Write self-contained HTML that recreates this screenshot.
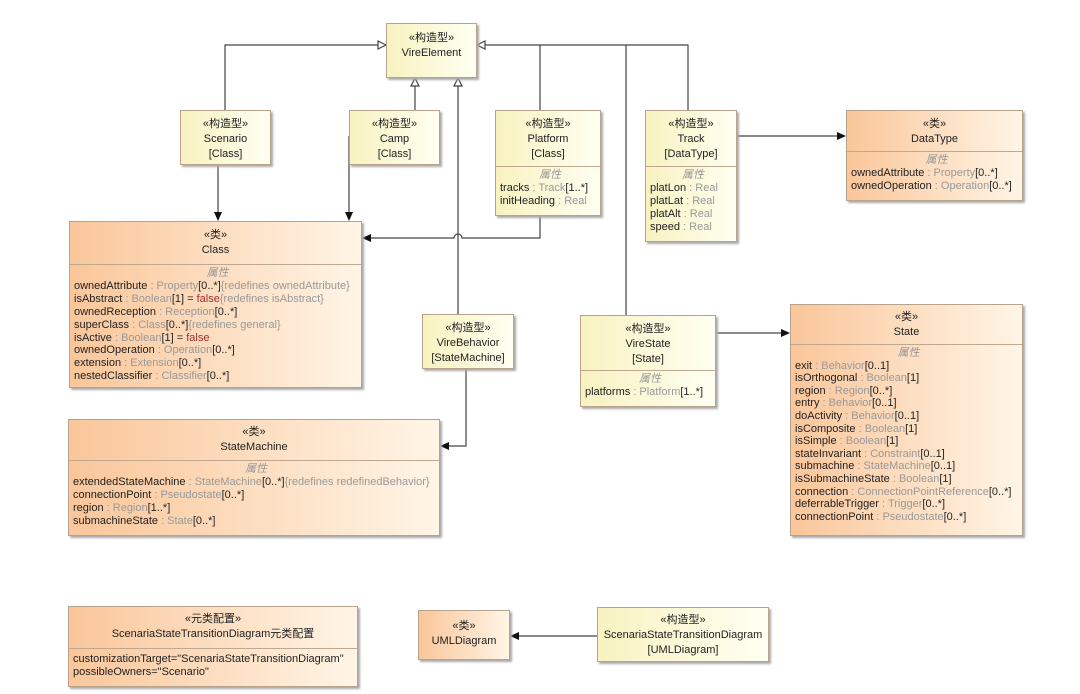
<!DOCTYPE html>
<html><head><meta charset="utf-8"><style>
body{margin:0;width:1080px;height:694px;background:#fff;position:relative;overflow:hidden;font-family:"Liberation Sans","Noto Sans CJK SC",sans-serif;font-size:11px;color:#222}
.b{position:absolute;box-sizing:border-box;border:1px solid #b8a48c;box-shadow:2px 2px 2px #aaa}
.y{background:linear-gradient(90deg,#f8f2c0,#fffff2)}
.o{background:linear-gradient(90deg,#fac69a,#fff5e6)}
.hd{text-align:center;line-height:15px;box-sizing:border-box;padding-top:6px}
.sep{border-top:1px solid #c0a890;padding:2px 0 0 4px;line-height:12.9px}
.pr{text-align:center;font-style:italic;color:#999}
.g{color:#999}.r{color:#a03030}
svg{position:absolute;left:0;top:0}
</style></head><body>
<svg width="1080" height="694">
<g stroke="#444" stroke-width="1.2" fill="none">
<polyline points="225,110 225,45 378,45"/>
<polyline points="415,110 415,86"/>
<polyline points="458,314 458,86"/>
<polyline points="540,110 540,45 485,45"/>
<polyline points="688,110 688,45 540,45"/>
<polyline points="626,315 626,45"/>
<polyline points="218,165 218,212"/>
<polyline points="349,136 349,212"/>
<path d="M540,216 L540,238 L462,238 A4,4 0 0 0 454,238 L371,238"/>
<polyline points="466,369 466,446 449,446"/>
<polyline points="737,136 837,136"/>
<polyline points="716,333 781,333"/>
<polyline points="597,636 519,636"/>
</g>
<g fill="#fff" stroke="#444" stroke-width="1.2">
<polygon points="386,45 378,41 378,49"/>
<polygon points="477,45 485,41 485,49"/>
<polygon points="415,78 411,86 419,86"/>
<polygon points="458,78 454,86 462,86"/>
</g>
<g fill="#111">
<polygon points="218,221 214,212 222,212"/>
<polygon points="349,221 345,212 353,212"/>
<polygon points="362,238 371,234 371,242"/>
<polygon points="440,446 449,442 449,450"/>
<polygon points="846,136 837,132 837,140"/>
<polygon points="790,333 781,329 781,337"/>
<polygon points="510,636 519,632 519,640"/>
</g>
</svg>

<div class="b y" style="left:386px;top:23px;width:91px;height:55px"><div class="hd" style="padding-top:7px">«构造型»<br>VireElement</div></div>
<div class="b y" style="left:180px;top:110px;width:91px;height:55px"><div class="hd">«构造型»<br>Scenario<br>[Class]</div></div>
<div class="b y" style="left:349px;top:110px;width:91px;height:55px"><div class="hd">«构造型»<br>Camp<br>[Class]</div></div>
<div class="b y" style="left:495px;top:110px;width:106px;height:106px"><div class="hd" style="height:55px">«构造型»<br>Platform<br>[Class]</div>
<div class="sep"><div class="pr">属性</div>tracks <span class="g">: Track</span>[1..*]<br>initHeading <span class="g">: Real</span></div></div>
<div class="b y" style="left:645px;top:110px;width:92px;height:132px"><div class="hd" style="height:55px">«构造型»<br>Track<br>[DataType]</div>
<div class="sep"><div class="pr">属性</div>platLon <span class="g">: Real</span><br>platLat <span class="g">: Real</span><br>platAlt <span class="g">: Real</span><br>speed <span class="g">: Real</span></div></div>
<div class="b o" style="left:846px;top:110px;width:177px;height:91px"><div class="hd" style="height:40px">«类»<br>DataType</div>
<div class="sep"><div class="pr">属性</div>ownedAttribute <span class="g">: Property</span>[0..*]<br>ownedOperation <span class="g">: Operation</span>[0..*]</div></div>
<div class="b o" style="left:69px;top:221px;width:293px;height:167px"><div class="hd" style="height:42px;padding-top:6px">«类»<br>Class</div>
<div class="sep"><div class="pr">属性</div>ownedAttribute <span class="g">: Property</span>[0..*]<span class="g">{redefines ownedAttribute}</span><br>isAbstract <span class="g">: Boolean</span>[1] = <span class="r">false</span><span class="g">{redefines isAbstract}</span><br>ownedReception <span class="g">: Reception</span>[0..*]<br>superClass <span class="g">: Class</span>[0..*]<span class="g">{redefines general}</span><br>isActive <span class="g">: Boolean</span>[1] = <span class="r">false</span><br>ownedOperation <span class="g">: Operation</span>[0..*]<br>extension <span class="g">: Extension</span>[0..*]<br>nestedClassifier <span class="g">: Classifier</span>[0..*]</div></div>
<div class="b y" style="left:422px;top:314px;width:92px;height:55px"><div class="hd">«构造型»<br>VireBehavior<br>[StateMachine]</div></div>
<div class="b y" style="left:580px;top:315px;width:136px;height:92px"><div class="hd" style="height:54px">«构造型»<br>VireState<br>[State]</div>
<div class="sep"><div class="pr">属性</div>platforms <span class="g">: Platform</span>[1..*]</div></div>
<div class="b o" style="left:790px;top:304px;width:233px;height:232px"><div class="hd" style="height:39px;padding-top:5px">«类»<br>State</div>
<div class="sep" style="line-height:12.6px"><div class="pr">属性</div>exit <span class="g">: Behavior</span>[0..1]<br>isOrthogonal <span class="g">: Boolean</span>[1]<br>region <span class="g">: Region</span>[0..*]<br>entry <span class="g">: Behavior</span>[0..1]<br>doActivity <span class="g">: Behavior</span>[0..1]<br>isComposite <span class="g">: Boolean</span>[1]<br>isSimple <span class="g">: Boolean</span>[1]<br>stateInvariant <span class="g">: Constraint</span>[0..1]<br>submachine <span class="g">: StateMachine</span>[0..1]<br>isSubmachineState <span class="g">: Boolean</span>[1]<br>connection <span class="g">: ConnectionPointReference</span>[0..*]<br>deferrableTrigger <span class="g">: Trigger</span>[0..*]<br>connectionPoint <span class="g">: Pseudostate</span>[0..*]</div></div>
<div class="b o" style="left:68px;top:419px;width:372px;height:117px"><div class="hd" style="height:40px;padding-top:5px">«类»<br>StateMachine</div>
<div class="sep"><div class="pr">属性</div>extendedStateMachine <span class="g">: StateMachine</span>[0..*]<span class="g">{redefines redefinedBehavior}</span><br>connectionPoint <span class="g">: Pseudostate</span>[0..*]<br>region <span class="g">: Region</span>[1..*]<br>submachineState <span class="g">: State</span>[0..*]</div></div>
<div class="b o" style="left:68px;top:606px;width:290px;height:81px"><div class="hd" style="height:41px;padding-top:5px">«元类配置»<br>ScenariaStateTransitionDiagram元类配置</div>
<div class="sep" style="padding-top:4px">customizationTarget="ScenariaStateTransitionDiagram"<br>possibleOwners="Scenario"</div></div>
<div class="b o" style="left:418px;top:610px;width:92px;height:50px"><div class="hd" style="padding-top:8px">«类»<br>UMLDiagram</div></div>
<div class="b y" style="left:597px;top:607px;width:172px;height:55px"><div class="hd" style="padding-top:5px">«构造型»<br>ScenariaStateTransitionDiagram<br>[UMLDiagram]</div></div>
</body></html>
